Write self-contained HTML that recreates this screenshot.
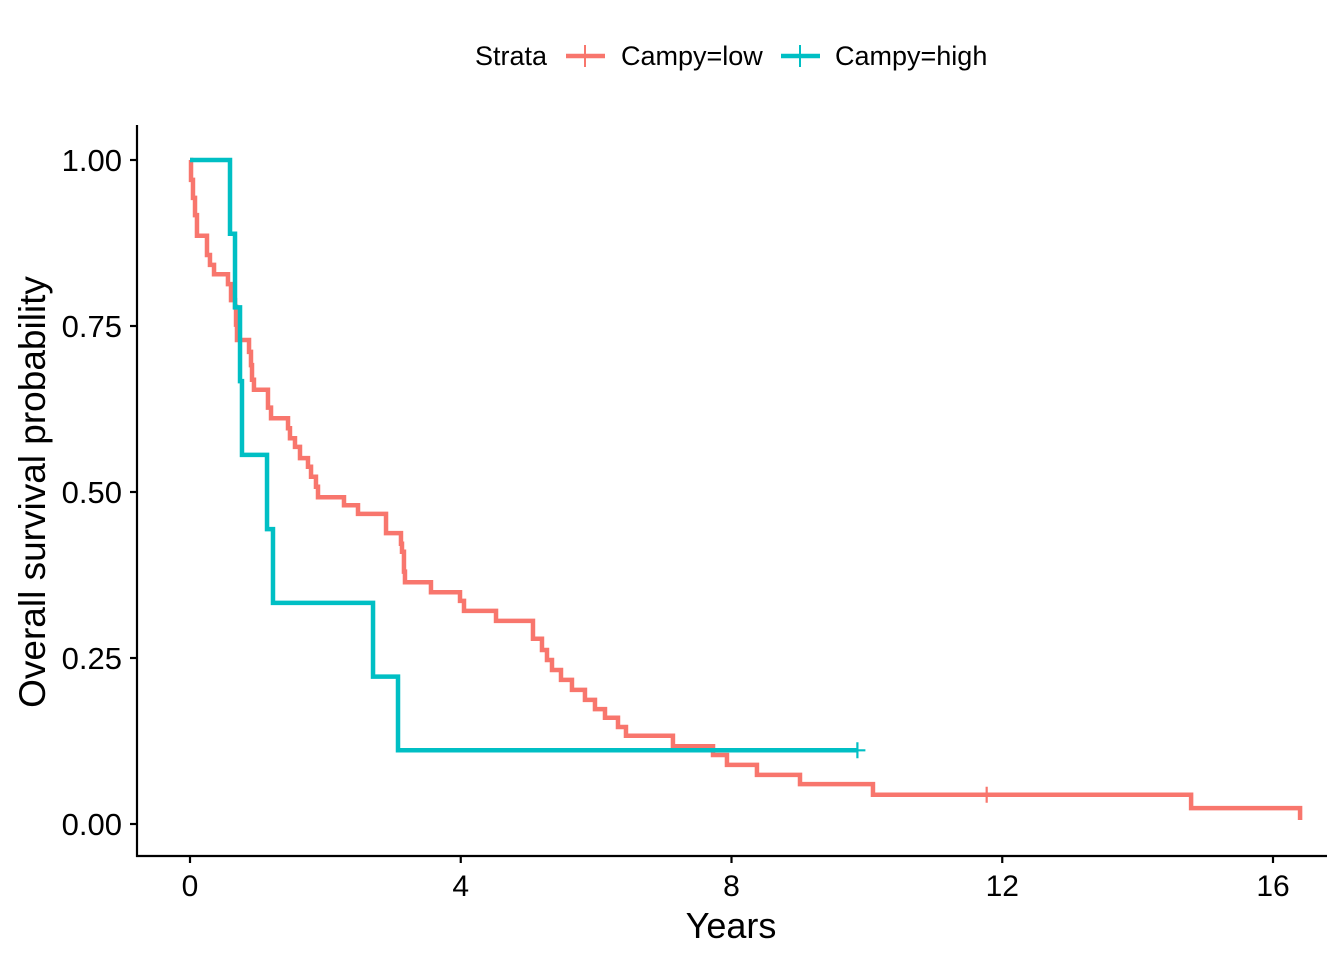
<!DOCTYPE html>
<html><head><meta charset="utf-8"><style>
body{margin:0;background:#fff;}
svg{display:block;font-family:"Liberation Sans",Arial,sans-serif;}
</style></head><body>
<svg id="chart" width="1344" height="960" viewBox="0 0 1344 960">
<g id="legend">
<text x="475" y="65" font-size="27" fill="#000">Strata</text>
<g>
<line x1="566" y1="56" x2="605" y2="56" stroke="#F8766D" stroke-width="4.5"/>
<line x1="585" y1="45" x2="585" y2="67" stroke="#F8766D" stroke-width="2"/>
<text x="621" y="65" font-size="27" fill="#000">Campy=low</text></g>
<g>
<line x1="781" y1="56" x2="820" y2="56" stroke="#00BFC4" stroke-width="4.5"/>
<line x1="800" y1="45" x2="800" y2="67" stroke="#00BFC4" stroke-width="2"/>
<text x="835" y="65" font-size="27" fill="#000">Campy=high</text></g>
</g>
<g id="axes"></g>
<g id="marks"></g>
<text x="731" y="938" font-size="36" text-anchor="middle" fill="#000">Years</text>
<text transform="translate(45,492) rotate(-90)" font-size="37" text-anchor="middle" fill="#000">Overall survival probability</text>
</svg>
<script>
const xTicks=[0,4,8,12,16];
const yTicks=[0,0.25,0.5,0.75,1];
const yTickLabels=["0.00","0.25","0.50","0.75","1.00"];
const lowTimes=[0.015,0.044,0.074,0.103,0.251,0.295,0.355,0.561,0.606,0.665,0.680,0.694,0.872,0.901,0.916,0.945,1.152,1.197,1.448,1.477,1.551,1.625,1.743,1.788,1.861,1.891,2.275,2.482,2.896,3.117,3.132,3.161,3.176,3.560,3.989,4.048,4.521,5.067,5.200,5.274,5.348,5.481,5.643,5.835,5.983,6.131,6.323,6.441,7.135,7.727,7.933,8.376,9.012,10.09,14.79,16.40];
const lowSurv=[0.970,0.943,0.917,0.886,0.857,0.842,0.828,0.813,0.789,0.779,0.752,0.729,0.711,0.691,0.669,0.654,0.627,0.611,0.596,0.581,0.568,0.551,0.538,0.523,0.508,0.492,0.480,0.467,0.438,0.422,0.410,0.380,0.364,0.349,0.336,0.321,0.306,0.279,0.262,0.247,0.232,0.217,0.202,0.187,0.173,0.160,0.146,0.133,0.117,0.104,0.089,0.074,0.060,0.044,0.024,0.006];
const lowCensorTimes=[11.77];
const lowEnd=16.40;
const highTimes=[0.591,0.665,0.739,0.768,1.138,1.226,2.704,3.073];
const highSurv=[0.889,0.778,0.667,0.556,0.444,0.333,0.222,0.111];
const highCensorTimes=[9.86];
const highEnd=9.86;

const NS="http://www.w3.org/2000/svg";
const X=t=>190+t*(1273-190)/16;
const Y=s=>824-s*664;
function mk(tag,attrs,parent){const e=document.createElementNS(NS,tag);for(const k in attrs)e.setAttribute(k,attrs[k]);parent.appendChild(e);return e;}
const axes=document.getElementById('axes');
const marks=document.getElementById('marks');
let a=mk('line',{x1:137,y1:125,x2:137,y2:857,stroke:'#000','stroke-width':2.2},axes);


a=mk('line',{x1:136,y1:856,x2:1327,y2:856,stroke:'#000','stroke-width':2.2},axes);


xTicks.forEach(v=>{
 const t=mk('line',{x1:X(v),y1:856,x2:X(v),y2:863,stroke:'#000','stroke-width':2.2},axes);
 
 
 const l=mk('text',{x:X(v),y:896,'font-size':30,'text-anchor':'middle',fill:'#000'},axes);
 l.textContent=String(v);
 
 
});
yTicks.forEach((v,i)=>{
 const t=mk('line',{x1:130,y1:Y(v),x2:137,y2:Y(v),stroke:'#000','stroke-width':2.2},axes);
 
 
 const l=mk('text',{x:122,y:Y(v)+11,'font-size':31,'text-anchor':'end',fill:'#000'},axes);
 l.textContent=yTickLabels[i];
 
 
});
function curve(times,surv,end,censors,color,name){
 let d=`M${X(0)},${Y(1)}`;
 times.forEach((t,i)=>{d+=` H${X(t)} V${Y(surv[i])}`;});
 d+=` H${X(end)}`;
 const p=mk('path',{d:d,fill:'none',stroke:color,'stroke-width':4.5,'stroke-linejoin':'miter'},marks);
 
 
 censors.forEach(c=>{
  let sv=1;times.forEach((t,i)=>{if(t<=c)sv=surv[i];});
  const m=mk('path',{d:`M${X(c)-8},${Y(sv)} H${X(c)+8} M${X(c)},${Y(sv)-8} V${Y(sv)+8}`,stroke:color,'stroke-width':2.2,fill:'none'},marks);
  
  
 });
}
curve(lowTimes,lowSurv,lowEnd,lowCensorTimes,'#F8766D','curve-campy-low');
curve(highTimes,highSurv,highEnd,highCensorTimes,'#00BFC4','curve-campy-high');
</script>
</body></html>
